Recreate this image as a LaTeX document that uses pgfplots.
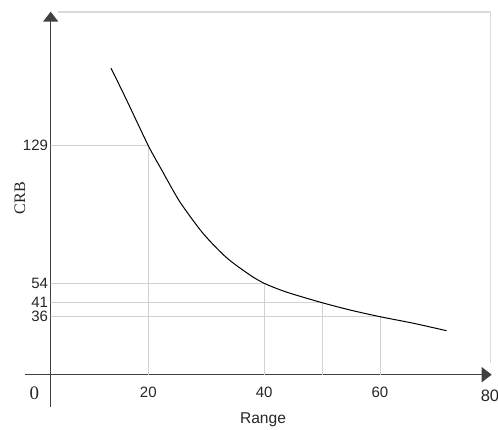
\documentclass[border=0pt]{standalone}
\usepackage{fontspec}
\setmainfont{Liberation Sans}
\newfontfamily\serifcrb{Liberation Serif}
\usepackage{pgfplots}
\pgfplotsset{compat=1.18}
\usetikzlibrary{arrows.meta}
\definecolor{axisgray}{HTML}{404040}
\definecolor{gridgray}{HTML}{D2D2D2}
\definecolor{framegray}{HTML}{DADADA}
\begin{document}
\begin{tikzpicture}
\useasboundingbox (-50.7pt,-23.3pt) rectangle (447.3pt,406.7pt);
\begin{axis}[
    at={(0pt,0pt)}, anchor=south west,
    scale only axis,
    width=441pt, height=395pt,
    % the drawn y scale is not uniform: piecewise linear through the marked levels
    y coord trafo/.code={\pgfmathparse{(#1)<=36 ? 1.6111*(#1) : ((#1)<=41 ? 58+2.8*((#1)-36) : ((#1)<=54 ? 72+1.4923*((#1)-41) : 91.4+1.8347*((#1)-54)))}},
    xmin=3.14, xmax=79.3,
    ymin=-19.86, ymax=202,
    axis x line=middle, axis y line=left,
    axis line style={axisgray, line width=1.5pt, -{Triangle[length=10pt,width=15pt]}},
    xtick={20,40,60},
    ytick={36,41,54,129},
    yticklabels={36,41,54,129},
    major tick length=0pt,
    clip mode=individual,
    /pgf/number format/assume math mode=true,
    tick label style={font=\fontsize{15}{16}\selectfont, text=black!85},
    x tick label style={anchor=base, yshift=-23.3pt},
    y tick label style={anchor=east, inner sep=0pt, xshift=-2.5pt},
    every axis x label/.style={at={(axis description cs:0.4814,0)}, anchor=base, yshift=-17.3pt,
        font=\fontsize{15.6}{18}\selectfont, text=black!85},
    every axis y label/.style={at={(axis description cs:0,0.528)}, xshift=-30.7pt, anchor=center,
        rotate=90, font=\serifcrb\fontsize{16}{19}\selectfont, text=black!85},
    xlabel={Range},
    ylabel={CRB},
]
% drop lines from the marked points to both axes
\addplot[gridgray, line width=0.8pt] coordinates {(20,0) (20,129) (0,129)};
\addplot[gridgray, line width=0.8pt] coordinates {(40,0) (40,54) (0,54)};
\addplot[gridgray, line width=0.8pt] coordinates {(50,0) (50,41) (0,41)};
\addplot[gridgray, line width=0.8pt] coordinates {(60,0) (60,36) (0,36)};

% CRB curve
\addplot[black, line width=1pt, smooth] coordinates {
    (13.56,171.2) (16,155.5) (20,129) (22.3,115.8) (24.6,102.8) (26,95.8)
    (29.5,81.0) (33.5,68.0) (37.6,58.4) (40,54) (42.7,49.7) (45,46.7)
    (50,41) (54.8,38.4) (60,36) (65.8,31.9) (71.5,27.3)
};

% light frame, left end of x axis, origin and 80 labels
\draw[framegray, line width=1.2pt] (rel axis cs:0.017,0.999) -- (rel axis cs:0.998,0.999) -- (rel axis cs:0.998,0.11);
\draw[axisgray, line width=1.5pt] (axis cs:-1.3,0) -- (axis cs:3.14,0);
\node[font=\serifcrb\fontsize{19}{22}\selectfont, text=black!85, yshift=-19pt] at (axis cs:0.3,0) {0};
\node[font=\fontsize{16.5}{20}\selectfont, text=black!85, yshift=-21.3pt] at (axis cs:79,0) {80};
\end{axis}
\end{tikzpicture}
\end{document}
